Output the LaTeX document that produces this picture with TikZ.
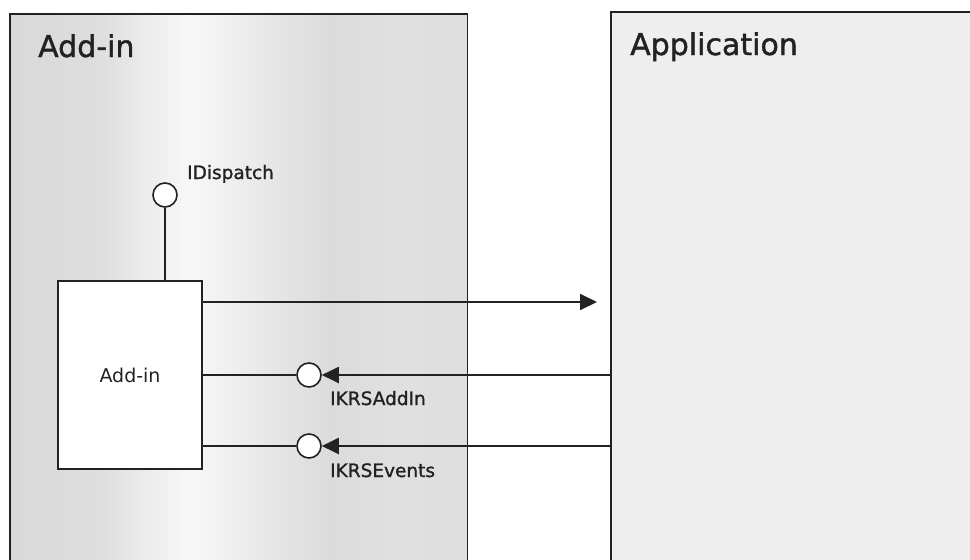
\documentclass[tikz,border=0pt]{standalone}
\usepackage{fontspec}
\setmainfont{DejaVu Sans}
\newfontfamily\heavyfont[FakeBold=1.3]{DejaVu Sans}
\usetikzlibrary{arrows.meta}
\definecolor{ink}{HTML}{222222}
\definecolor{ga}{gray}{0.85}
\definecolor{gb}{gray}{0.87}
\definecolor{gc}{gray}{0.93}
\definecolor{gd}{gray}{0.97}
\definecolor{ge}{gray}{0.94}
\definecolor{gf}{gray}{0.89}
\definecolor{gg}{gray}{0.86}
\definecolor{gh}{gray}{0.88}
\definecolor{gi}{gray}{0.87}
\definecolor{appgray}{gray}{0.935}
\pgfdeclarehorizontalshading{leftbg}{100bp}{color(0bp)=(ga); color(25bp)=(ga); color(34.85bp)=(gb); color(40.32bp)=(gc); color(44.69bp)=(gd); color(49.07bp)=(ge); color(55.63bp)=(gf); color(60.01bp)=(gg); color(67.67bp)=(gh); color(75bp)=(gi); color(100bp)=(gi)}
\tikzset{
  panelborder/.style={draw=ink, line width=1.5pt},
  title/.style={font=\heavyfont\fontsize{30}{34}\selectfont, text=ink, inner sep=0pt},
  lbl/.style={font=\heavyfont\fontsize{18.5}{20}\selectfont, text=ink, inner sep=0pt},
  compbox/.style={draw=ink, fill=white, line width=1.8pt, minimum width=144pt, minimum height=188pt, inner sep=0pt, font=\fontsize{19}{21}\selectfont, text=ink},
  lolli/.style={circle, draw=ink, fill=white, line width=1.6pt, minimum size=24pt, inner sep=0pt},
  conn/.style={draw=ink, line width=2pt},
  tipped/.style={conn, -{Triangle[length=17pt,width=16pt]}}
}
\begin{document}
\begin{tikzpicture}[x=1pt,y=-1pt]
\useasboundingbox (0,0) rectangle (970,560);
\fill[white] (0,0) rectangle (970,560);
% panels
\node[shading=leftbg, minimum width=457pt, minimum height=546pt, inner sep=0pt, anchor=north west] (addp) at (10,14) {};
\node[fill=appgray, minimum width=359pt, minimum height=548pt, inner sep=0pt, anchor=north west] (app) at (611,12) {};
\draw[panelborder] (addp.south west) -- (addp.north west) -- (addp.north east) -- (addp.south east);
\draw[panelborder] (app.south west) -- (app.north west) -- (app.north east);
\node[title, anchor=base west] (t1) at (38,57) {Add-in};
\node[title, anchor=base west] (t2) at (630,55) {Application};
% component
\node[compbox] (box) at (130,375) {Add-in};
% IDispatch
\node[lolli] (idc) at (165,195) {};
\draw[conn] (idc.south) -- (idc.south |- box.north);
\node[lbl, anchor=base west] (l1) at (187,179) {IDispatch};
% outgoing call
\coordinate (tip) at (597,302);
\draw[tipped] (box.east |- tip) -- (tip);
% IKRSAddIn
\node[lolli] (c1) at (309,375) {};
\draw[conn] (box.east |- c1) -- (c1.west);
\draw[tipped] (app.west |- c1) -- (c1.east);
\node[lbl, anchor=base west] (l2) at (330,405) {IKRSAddIn};
% IKRSEvents
\node[lolli] (c2) at (309,446) {};
\draw[conn] (box.east |- c2) -- (c2.west);
\draw[tipped] (app.west |- c2) -- (c2.east);
\node[lbl, anchor=base west] (l3) at (330,477) {IKRSEvents};
\end{tikzpicture}
\end{document}
